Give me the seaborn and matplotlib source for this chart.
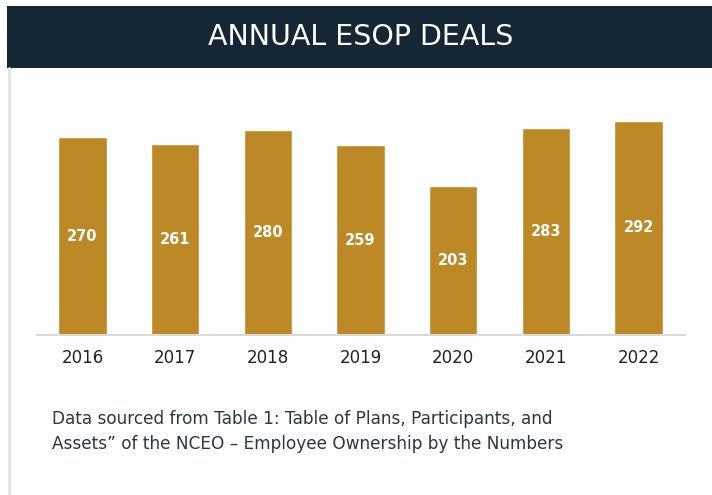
import seaborn as sns
import matplotlib.pyplot as plt
from matplotlib.patches import Rectangle
from matplotlib.lines import Line2D
import pandas as pd

years = ["2016", "2017", "2018", "2019", "2020", "2021", "2022"]
deals = [270, 261, 280, 259, 203, 283, 292]

title = "ANNUAL ESOP DEALS"
note = ("Data sourced from Table 1: Table of Plans, Participants, and\n"
        "Assets\u201d of the NCEO \u2013 Employee Ownership by the Numbers")

df = pd.DataFrame({"year": years, "deals": deals})

sns.set_style("white")
plt.rcParams["font.family"] = ["DejaVu Sans"]

fig = plt.figure(figsize=(7.12, 4.95), dpi=100)

# dark header band + left border
fig.patches.append(Rectangle((0.0098, 0.8626), 0.9902, 0.1253, transform=fig.transFigure,
                             facecolor="#152735", edgecolor="none", zorder=0))
fig.lines.append(Line2D([0.0126, 0.0126], [0.0, 0.8626], transform=fig.transFigure,
                        color="#e4e4e4", lw=2))
fig.text(0.507, 0.925, title, color="white", fontsize=20.5, ha="center", va="center",
         fontweight="normal")

ax = fig.add_axes([0.052, 0.3232, 0.910, 0.474])
sns.barplot(data=df, x="year", y="deals", color="#BD8826", saturation=1, width=0.52, ax=ax)

for i, v in enumerate(deals):
    ax.text(i, v / 2, str(v), color="white", fontsize=10.5, fontweight="bold",
            ha="center", va="center")

ax.set_xlim(-0.49, 6.5)
ax.set_ylim(0, 320)
ax.set_xlabel("")
ax.set_ylabel("")
ax.set_yticks([])
for s in ["top", "right", "left"]:
    ax.spines[s].set_visible(False)
ax.spines["bottom"].set_color("#d9d9d9")
ax.spines["bottom"].set_linewidth(1.5)
ax.tick_params(axis="x", length=0, pad=10, labelsize=12, labelcolor="#222222")

fig.text(0.073, 0.129, note, color="#2b3744", fontsize=12.2, ha="left", va="center",
         linespacing=1.5)

fig.savefig("out.png", dpi=100)
